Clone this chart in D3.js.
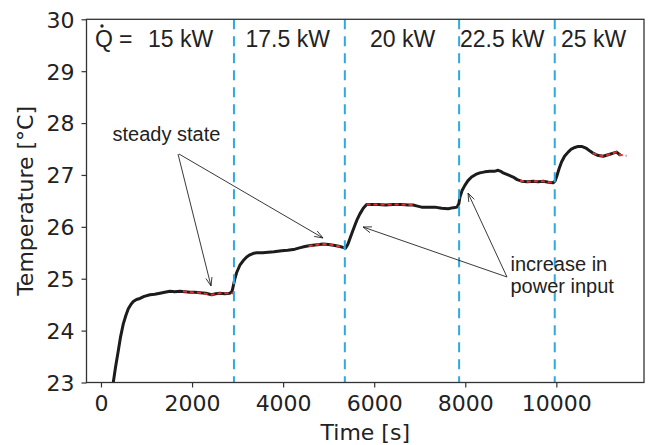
<!DOCTYPE html>
<html>
<head>
<meta charset="utf-8">
<script src="https://cdn.jsdelivr.net/npm/d3@7"></script>
<style>
  html, body { margin: 0; padding: 0; background: #fff; }
  svg { display: block; }
</style>
</head>
<body>
<svg id="chart" width="649" height="445"></svg>
<script>
// ---- data ----
const timeS = [230,270,320,380,430,490,550,600,660,710,780,856,950,1076,1180,1295,1400,1515,1620,1734,1850,1954,2060,2173,2300,2430,2520,2613,2720,2832,2880,2905,2940,2980,3050,3125,3200,3270,3350,3420,3550,3673,3800,3967,4100,4259,4380,4478,4600,4698,4800,4880,5000,5137,5250,5330,5370,5420,5466,5520,5576,5630,5686,5760,5833,5950,6088,6250,6400,6601,6750,6856,6950,7041,7150,7333,7480,7625,7740,7820,7860,7882,7930,7991,8060,8138,8230,8320,8430,8540,8640,8722,8780,8832,8940,9052,9140,9236,9360,9491,9600,9710,9830,9930,9970,10004,10060,10114,10180,10259,10330,10406,10480,10553,10610,10663,10740,10808,10900,11028,11100,11175,11250,11322,11394];
const tempC = [22.55,23.0,23.3,23.61,23.88,24.13,24.30,24.42,24.51,24.56,24.60,24.62,24.66,24.69,24.70,24.72,24.74,24.76,24.75,24.76,24.75,24.74,24.74,24.73,24.72,24.69,24.71,24.72,24.71,24.72,24.76,24.86,25.00,25.12,25.26,25.35,25.42,25.46,25.49,25.50,25.50,25.51,25.52,25.54,25.55,25.57,25.60,25.62,25.64,25.65,25.66,25.67,25.66,25.64,25.62,25.60,25.59,25.66,25.77,25.90,26.03,26.15,26.25,26.36,26.43,26.43,26.43,26.42,26.43,26.43,26.42,26.42,26.40,26.38,26.38,26.38,26.36,26.35,26.37,26.38,26.45,26.57,26.70,26.80,26.89,26.96,27.01,27.04,27.06,27.07,27.07,27.09,27.07,27.04,27.00,26.96,26.91,26.88,26.87,26.88,26.87,26.88,26.86,26.85,26.88,26.96,27.12,27.25,27.36,27.44,27.50,27.53,27.55,27.55,27.53,27.51,27.46,27.42,27.38,27.36,27.38,27.40,27.42,27.44,27.39];

const steady1T = [1800,1954,2173,2430,2613,2832,2900];
const steady1V = [24.76,24.74,24.73,24.69,24.72,24.72,24.72];
const steady2T = [4560,4698,4880,5000,5137,5250,5357];
const steady2V = [25.63,25.65,25.67,25.66,25.64,25.62,25.60];
const steady3T = [5833,6088,6400,6601,6856];
const steady3V = [26.43,26.43,26.43,26.43,26.42];
const steady4T = [9200,9360,9491,9710,9930];
const steady4V = [26.89,26.87,26.88,26.88,26.85];
const steady5T = [10800,11028,11175,11322,11394,11540];
const steady5V = [27.42,27.36,27.40,27.44,27.39,27.37];

const stepTimes = [2920, 5355, 7865, 9965];
const powerLabels = ["15 kW", "17.5 kW", "20 kW", "22.5 kW", "25 kW"];
const xTicks = [0, 2000, 4000, 6000, 8000, 10000];
const yTicks = [23, 24, 25, 26, 27, 28, 29, 30];

// ---- layout ----
const svg = d3.select("#chart");
const L = 86.5, R = 644, T = 19.3, B = 382.5;
const x = d3.scaleLinear().domain([-318, 11925]).range([L, R]);
const y = d3.scaleLinear().domain([23, 30]).range([B, T]);

const tickFont = "'DejaVu Sans', sans-serif";
const annFont = "'Liberation Sans', Arial, sans-serif";

svg.append("defs").append("clipPath").attr("id", "clip")
  .append("rect").attr("x", L).attr("y", T).attr("width", R - L).attr("height", B - T);

// main line
const line = d3.line().x(d => x(d[0])).y(d => y(d[1]));
svg.append("path")
  .attr("clip-path", "url(#clip)")
  .attr("d", line(timeS.map((t, i) => [t, tempC[i]])))
  .attr("fill", "none").attr("stroke", "#1c1c1c").attr("stroke-width", 3)
  .attr("stroke-linejoin", "round").attr("stroke-linecap", "round");

// steady-state fits
[[steady1T, steady1V], [steady2T, steady2V], [steady3T, steady3V], [steady4T, steady4V], [steady5T, steady5V]]
  .forEach(([ts, vs]) => {
    svg.append("path")
      .attr("d", line(ts.map((t, i) => [t, vs[i]])))
      .attr("fill", "none").attr("stroke", "#e8302c").attr("stroke-width", 2)
      .attr("stroke-dasharray", "4,3");
  });

// step lines
svg.selectAll("line.step").data(stepTimes).enter().append("line")
  .attr("class", "step")
  .attr("x1", d => x(d)).attr("x2", d => x(d))
  .attr("y1", T).attr("y2", B)
  .attr("stroke", "#2fa9df").attr("stroke-width", 2)
  .attr("stroke-dasharray", "10,7");

// axes
const xAxis = svg.append("g").attr("transform", `translate(0,${B})`)
  .call(d3.axisBottom(x).tickValues(xTicks).tickFormat(d3.format("d")).tickSize(5).tickPadding(5).tickSizeOuter(0));
const yAxis = svg.append("g").attr("transform", `translate(${L},0)`)
  .call(d3.axisLeft(y).tickValues(yTicks).tickFormat(d3.format("d")).tickSize(5).tickPadding(7).tickSizeOuter(0));
[xAxis, yAxis].forEach(g => {
  g.select(".domain").remove();
  g.selectAll("line").attr("stroke", "#333").attr("stroke-width", 1.2);
  g.selectAll("text").attr("fill", "#222").style("font-family", tickFont).style("font-size", "22px");
});
xAxis.selectAll("text").attr("dy", "0.85em");
yAxis.selectAll("text").attr("dy", "0.36em");

// frame
svg.append("rect").attr("x", L).attr("y", T).attr("width", R - L).attr("height", B - T)
  .attr("fill", "none").attr("stroke", "#333").attr("stroke-width", 1.3);

// axis titles
svg.append("text").attr("x", (L + R) / 2).attr("y", 440).attr("text-anchor", "middle")
  .style("font-family", tickFont).style("font-size", "22px").attr("fill", "#222").text("Time [s]");
svg.append("text").attr("transform", `translate(33,${(T + B) / 2}) rotate(-90)`).attr("text-anchor", "middle")
  .style("font-family", tickFont).style("font-size", "22px").attr("fill", "#222").text("Temperature [°C]");

// power labels
const labelX = [148, 245.5, 370, 460, 561];
svg.selectAll("text.pw").data(powerLabels).enter().append("text")
  .attr("class", "pw").attr("x", (d, i) => labelX[i]).attr("y", 47)
  .style("font-family", annFont).style("font-size", "23px").attr("fill", "#222").text(d => d);
svg.append("text").attr("x", 95).attr("y", 47)
  .style("font-family", annFont).style("font-size", "23px").attr("fill", "#222").text("Q");
svg.append("circle").attr("cx", 102).attr("cy", 26).attr("r", 1.7).attr("fill", "#222");
svg.append("text").attr("x", 119).attr("y", 47)
  .style("font-family", annFont).style("font-size", "23px").attr("fill", "#222").text("=");

// annotations
const ann = svg.append("g").style("font-family", annFont).style("font-size", "20px").attr("fill", "#222");
ann.append("text").attr("x", 112.5).attr("y", 141).text("steady state");
ann.append("text").attr("x", 510.5).attr("y", 271).text("increase in");
ann.append("text").attr("x", 510.5).attr("y", 293).text("power input");

function arrow(x0, y0, x1, y1) {
  const a = Math.atan2(y1 - y0, x1 - x0), h = 9, s = 0.35;
  const p = d3.path();
  p.moveTo(x0, y0); p.lineTo(x1, y1);
  p.moveTo(x1 - h * Math.cos(a - s), y1 - h * Math.sin(a - s));
  p.lineTo(x1, y1);
  p.lineTo(x1 - h * Math.cos(a + s), y1 - h * Math.sin(a + s));
  svg.append("path").attr("d", p.toString()).attr("fill", "none")
    .attr("stroke", "#222").attr("stroke-width", 0.9);
}
arrow(178, 154, 211, 286);
arrow(179, 154, 323, 238);
arrow(507, 277, 468, 193);
arrow(507, 277, 363, 227);
</script>
</body>
</html>
